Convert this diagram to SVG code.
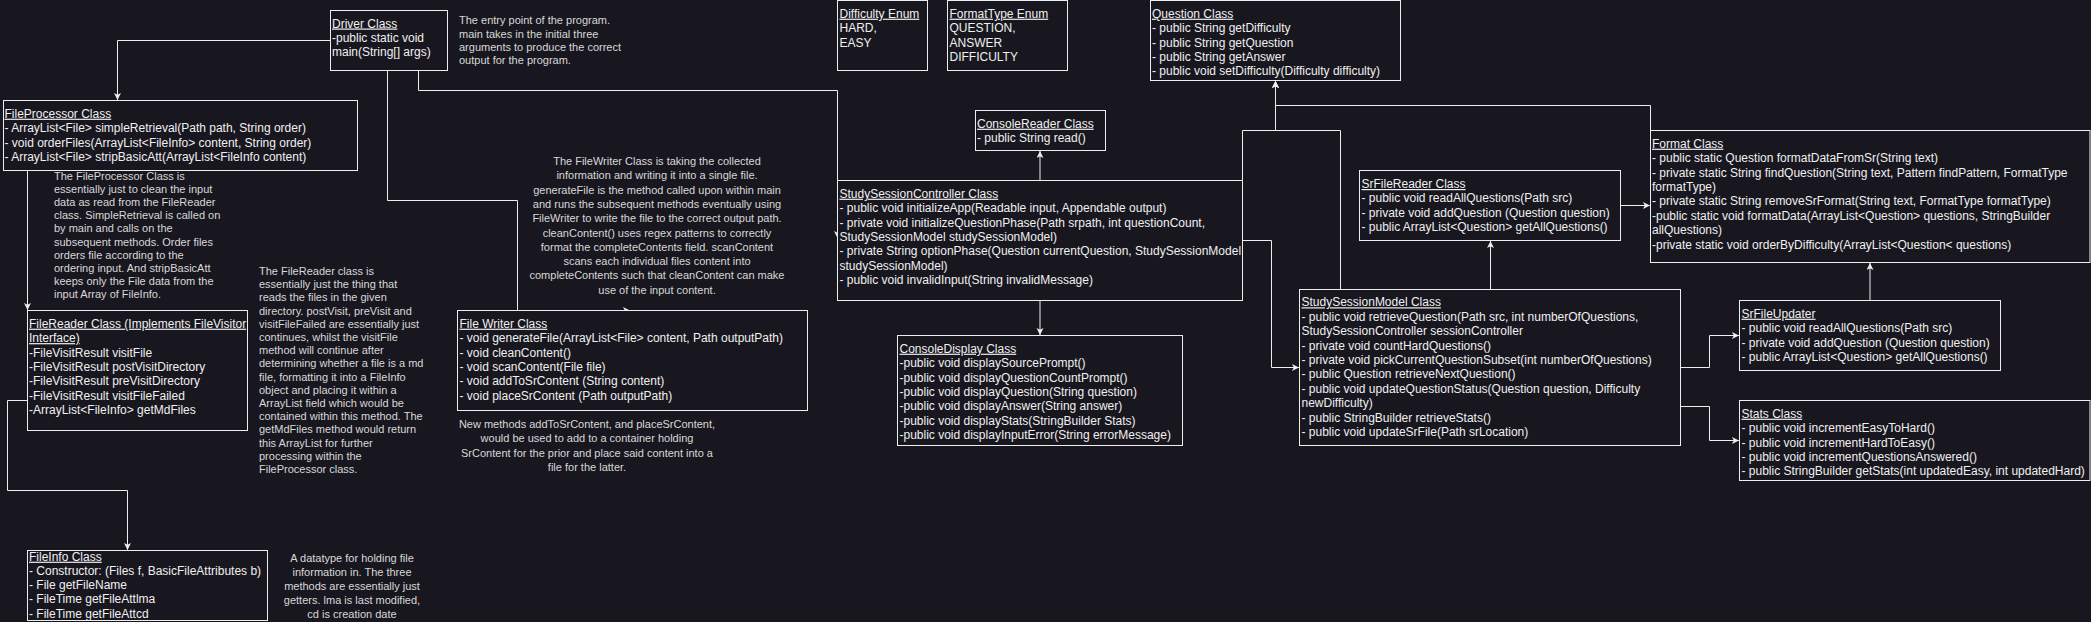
<svg xmlns="http://www.w3.org/2000/svg" width="2091" height="622" viewBox="0 0 2091 622">
<style>
.bg{fill:#18171f}
.box{fill:#18171f;stroke:#eeeeee;stroke-width:1}
.t{font-family:"Liberation Sans",Arial,sans-serif;font-size:12px;fill:#f0f0f0}
.u{text-decoration:underline}
.n{font-family:"Liberation Sans",Arial,sans-serif;font-size:11px;fill:#d8d8d8}
.c{text-anchor:middle}
.conn{fill:none;stroke:#eeeeee;stroke-width:1;marker-end:url(#arr)}
</style>
<defs>
<marker id="arr" markerUnits="userSpaceOnUse" markerWidth="8" markerHeight="8" refX="7" refY="3.5" orient="auto">
<path d="M0,0 L7,3.5 L0,7 L1.8,3.5 z" fill="#eeeeee"/>
</marker>
</defs>
<rect class="bg" x="0" y="0" width="2091" height="622"/>

<g id="connectors">
<path class="conn" d="M330,40.5 H117.5 V100"/>
<path class="conn" d="M418.5,70 V90.5 H837.5 V238"/>
<path class="conn" d="M387.5,70 V200.5 H517.5 V310.5 H630"/>
<path class="conn" d="M27.5,170 V310"/>
<path class="conn" d="M27.5,400.5 H7.5 V490.5 H127.5 V550"/>
<path class="conn" d="M1040,180 V151"/>
<path class="conn" d="M1040,300.5 V335"/>
<path class="conn" d="M1242.5,180 V130.5 H1275.5 V81"/>
<path class="conn" d="M1340.5,289 V130.5 H1275.5 V81"/>
<path class="conn" d="M1650.5,130 V105.5 H1275.5 V81"/>
<path class="conn" d="M1242.5,240.5 H1271.5 V367.5 H1299"/>
<path class="conn" d="M1490.5,289 V241"/>
<path class="conn" d="M1620.5,205.5 H1650"/>
<path class="conn" d="M1680.5,367.5 H1709.5 V335.5 H1739"/>
<path class="conn" d="M1680.5,406.5 H1709.5 V440.5 H1739"/>
<path class="conn" d="M1870,300 V263"/>
</g>

<g id="driver">
<rect class="box" x="330.5" y="10.5" width="117" height="60"/>
<text class="t"><tspan class="u" x="332" y="27.5">Driver Class</tspan><tspan x="332" y="41.9">-public static void</tspan><tspan x="332" y="56.3">main(String[] args)</tspan></text>
</g>
<g id="driver-note">
<text class="n"><tspan x="459" y="24.3">The entry point of the program.</tspan><tspan x="459" y="37.5">main takes in the initial three</tspan><tspan x="459" y="50.7">arguments to produce the correct</tspan><tspan x="459" y="63.9">output for the program.</tspan></text>
</g>

<g id="fileprocessor">
<rect class="box" x="3.5" y="100.5" width="354" height="70"/>
<text class="t"><tspan class="u" x="4.5" y="117.7">FileProcessor Class</tspan><tspan x="4.5" y="132.1">- ArrayList&lt;File&gt; simpleRetrieval(Path path, String order)</tspan><tspan x="4.5" y="146.5">- void orderFiles(ArrayList&lt;FileInfo&gt; content, String order)</tspan><tspan x="4.5" y="160.9">- ArrayList&lt;File&gt; stripBasicAtt(ArrayList&lt;FileInfo content)</tspan></text>
</g>
<g id="fileprocessor-note">
<text class="n"><tspan x="54" y="180">The FileProcessor Class is</tspan><tspan x="54" y="193.1">essentially just to clean the input</tspan><tspan x="54" y="206.2">data as read from the FileReader</tspan><tspan x="54" y="219.3">class. SimpleRetrieval is called on</tspan><tspan x="54" y="232.4">by main and calls on the</tspan><tspan x="54" y="245.5">subsequent methods. Order files</tspan><tspan x="54" y="258.6">orders file according to the</tspan><tspan x="54" y="271.7">ordering input. And stripBasicAtt</tspan><tspan x="54" y="284.8">keeps only the File data from the</tspan><tspan x="54" y="297.9">input Array of FileInfo.</tspan></text>
</g>

<g id="filereader">
<rect class="box" x="27.5" y="310.5" width="220" height="120"/>
<text class="t"><tspan class="u" x="29" y="327.7">FileReader Class (Implements FileVisitor</tspan><tspan class="u" x="29" y="342.1">Interface)</tspan><tspan x="29" y="356.5">-FileVisitResult visitFile</tspan><tspan x="29" y="370.9">-FileVisitResult postVisitDirectory</tspan><tspan x="29" y="385.3">-FileVisitResult preVisitDirectory</tspan><tspan x="29" y="399.7">-FileVisitResult visitFileFailed</tspan><tspan x="29" y="414.1">-ArrayList&lt;FileInfo&gt; getMdFiles</tspan></text>
</g>
<g id="filereader-note">
<text class="n"><tspan x="259" y="275">The FileReader class is</tspan><tspan x="259" y="288.2">essentially just the thing that</tspan><tspan x="259" y="301.4">reads the files in the given</tspan><tspan x="259" y="314.6">directory. postVisit, preVisit and</tspan><tspan x="259" y="327.8">visitFileFailed are essentially just</tspan><tspan x="259" y="341">continues, whilst the visitFile</tspan><tspan x="259" y="354.2">method will continue after</tspan><tspan x="259" y="367.4">determining whether a file is a md</tspan><tspan x="259" y="380.6">file, formatting it into a FileInfo</tspan><tspan x="259" y="393.8">object and placing it within a</tspan><tspan x="259" y="407">ArrayList field which would be</tspan><tspan x="259" y="420.2">contained within this method. The</tspan><tspan x="259" y="433.4">getMdFiles method would return</tspan><tspan x="259" y="446.6">this ArrayList for further</tspan><tspan x="259" y="459.8">processing within the</tspan><tspan x="259" y="473">FileProcessor class.</tspan></text>
</g>

<g id="fileinfo">
<rect class="box" x="27.5" y="550.5" width="240" height="70"/>
<text class="t"><tspan class="u" x="29" y="560.7">FileInfo Class</tspan><tspan x="29" y="574.9">- Constructor: (Files f, BasicFileAttributes b)</tspan><tspan x="29" y="589.1">- File getFileName</tspan><tspan x="29" y="603.3">- FileTime getFileAttlma</tspan><tspan x="29" y="617.5">- FileTime getFileAttcd</tspan></text>
</g>
<g id="fileinfo-note">
<text class="n c"><tspan x="352" y="561.7">A datatype for holding file</tspan><tspan x="352" y="575.8">information in. The three</tspan><tspan x="352" y="589.9">methods are essentially just</tspan><tspan x="352" y="604">getters. lma is last modified,</tspan><tspan x="352" y="618.1">cd is creation date</tspan></text>
</g>

<g id="filewriter-note">
<text class="n c"><tspan x="657" y="165">The FileWriter Class is taking the collected</tspan><tspan x="657" y="179.3">information and writing it into a single file.</tspan><tspan x="657" y="193.6">generateFile is the method called upon within main</tspan><tspan x="657" y="207.9">and runs the subsequent methods eventually using</tspan><tspan x="657" y="222.2">FileWriter to write the file to the correct output path.</tspan><tspan x="657" y="236.5">cleanContent() uses regex patterns to correctly</tspan><tspan x="657" y="250.8">format the completeContents field. scanContent</tspan><tspan x="657" y="265.1">scans each individual files content into</tspan><tspan x="657" y="279.4">completeContents such that cleanContent can make</tspan><tspan x="657" y="293.7">use of the input content.</tspan></text>
</g>
<g id="filewriter">
<rect class="box" x="457.5" y="310.5" width="350" height="100"/>
<text class="t"><tspan class="u" x="459.5" y="327.7">File Writer Class</tspan><tspan x="459.5" y="342.1">- void generateFile(ArrayList&lt;File&gt; content, Path outputPath)</tspan><tspan x="459.5" y="356.5">- void cleanContent()</tspan><tspan x="459.5" y="370.9">- void scanContent(File file)</tspan><tspan x="459.5" y="385.3">- void addToSrContent (String content)</tspan><tspan x="459.5" y="399.7">- void placeSrContent (Path outputPath)</tspan></text>
</g>
<g id="filewriter-note2">
<text class="n c"><tspan x="587" y="428">New methods addToSrContent, and placeSrContent,</tspan><tspan x="587" y="442.3">would be used to add to a container holding</tspan><tspan x="587" y="456.6">SrContent for the prior and place said content into a</tspan><tspan x="587" y="470.9">file for the latter.</tspan></text>
</g>

<g id="difficulty">
<rect class="box" x="837.5" y="0.5" width="90" height="70"/>
<text class="t"><tspan class="u" x="839.5" y="17.7">Difficulty Enum</tspan><tspan x="839.5" y="32.1">HARD,</tspan><tspan x="839.5" y="46.5">EASY</tspan></text>
</g>
<g id="formattype">
<rect class="box" x="947.5" y="0.5" width="120" height="70"/>
<text class="t"><tspan class="u" x="949.5" y="17.7">FormatType Enum</tspan><tspan x="949.5" y="32.1">QUESTION,</tspan><tspan x="949.5" y="46.5">ANSWER</tspan><tspan x="949.5" y="60.9">DIFFICULTY</tspan></text>
</g>
<g id="question">
<rect class="box" x="1150.5" y="0.5" width="250" height="80"/>
<text class="t"><tspan class="u" x="1152" y="17.7">Question Class</tspan><tspan x="1152" y="32.1">- public String getDifficulty</tspan><tspan x="1152" y="46.5">- public String getQuestion</tspan><tspan x="1152" y="60.9">- public String getAnswer</tspan><tspan x="1152" y="75.3">- public void setDifficulty(Difficulty difficulty)</tspan></text>
</g>
<g id="consolereader">
<rect class="box" x="975.5" y="110.5" width="130" height="40"/>
<text class="t"><tspan class="u" x="977" y="127.7">ConsoleReader Class</tspan><tspan x="977" y="142.1">- public String read()</tspan></text>
</g>
<g id="controller">
<rect class="box" x="837.5" y="180.5" width="405" height="120"/>
<text class="t"><tspan class="u" x="839.5" y="197.7">StudySessionController Class</tspan><tspan x="839.5" y="212.1">- public void initializeApp(Readable input, Appendable output)</tspan><tspan x="839.5" y="226.5">- private void initializeQuestionPhase(Path srpath, int questionCount,</tspan><tspan x="839.5" y="240.9">StudySessionModel studySessionModel)</tspan><tspan x="839.5" y="255.3">- private String optionPhase(Question currentQuestion, StudySessionModel</tspan><tspan x="839.5" y="269.7">studySessionModel)</tspan><tspan x="839.5" y="284.1">- public void invalidInput(String invalidMessage)</tspan></text>
</g>
<g id="consoledisplay">
<rect class="box" x="897.5" y="335.5" width="285" height="110"/>
<text class="t"><tspan class="u" x="899.5" y="352.7">ConsoleDisplay Class</tspan><tspan x="899.5" y="367.1">-public void displaySourcePrompt()</tspan><tspan x="899.5" y="381.5">-public void displayQuestionCountPrompt()</tspan><tspan x="899.5" y="395.9">-public void displayQuestion(String question)</tspan><tspan x="899.5" y="410.3">-public void displayAnswer(String answer)</tspan><tspan x="899.5" y="424.7">-public void displayStats(StringBuilder Stats)</tspan><tspan x="899.5" y="439.1">-public void displayInputError(String errorMessage)</tspan></text>
</g>
<g id="srfilereader">
<rect class="box" x="1359.5" y="170.5" width="261" height="70"/>
<text class="t"><tspan class="u" x="1361.5" y="188">SrFileReader Class</tspan><tspan x="1361.5" y="202.4">- public void readAllQuestions(Path src)</tspan><tspan x="1361.5" y="216.8">- private void addQuestion (Question question)</tspan><tspan x="1361.5" y="231.2">- public ArrayList&lt;Question&gt; getAllQuestions()</tspan></text>
</g>
<g id="model">
<rect class="box" x="1299.5" y="289.5" width="381" height="156"/>
<text class="t"><tspan class="u" x="1301.5" y="306.3">StudySessionModel Class</tspan><tspan x="1301.5" y="320.7">- public void retrieveQuestion(Path src, int numberOfQuestions,</tspan><tspan x="1301.5" y="335.1">StudySessionController sessionController</tspan><tspan x="1301.5" y="349.5">- private void countHardQuestions()</tspan><tspan x="1301.5" y="363.9">- private void pickCurrentQuestionSubset(int numberOfQuestions)</tspan><tspan x="1301.5" y="378.3">- public Question retrieveNextQuestion()</tspan><tspan x="1301.5" y="392.7">- public void updateQuestionStatus(Question question, Difficulty</tspan><tspan x="1301.5" y="407.1">newDifficulty)</tspan><tspan x="1301.5" y="421.5">- public StringBuilder retrieveStats()</tspan><tspan x="1301.5" y="435.9">- public void updateSrFile(Path srLocation)</tspan></text>
</g>
<g id="format">
<rect class="box" x="1650.5" y="130.5" width="439.5" height="132"/>
<text class="t"><tspan class="u" x="1652" y="147.7">Format Class</tspan><tspan x="1652" y="162.1">- public static Question formatDataFromSr(String text)</tspan><tspan x="1652" y="176.5">- private static String findQuestion(String text, Pattern findPattern, FormatType</tspan><tspan x="1652" y="190.9">formatType)</tspan><tspan x="1652" y="205.3">- private static String removeSrFormat(String text, FormatType formatType)</tspan><tspan x="1652" y="219.7">-public static void formatData(ArrayList&lt;Question&gt; questions, StringBuilder</tspan><tspan x="1652" y="234.1">allQuestions)</tspan><tspan x="1652" y="248.5">-private static void orderByDifficulty(ArrayList&lt;Question&lt; questions)</tspan></text>
</g>
<g id="srfileupdater">
<rect class="box" x="1739.5" y="300.5" width="261" height="70"/>
<text class="t"><tspan class="u" x="1741.5" y="317.7">SrFileUpdater</tspan><tspan x="1741.5" y="332.1">- public void readAllQuestions(Path src)</tspan><tspan x="1741.5" y="346.5">- private void addQuestion (Question question)</tspan><tspan x="1741.5" y="360.9">- public ArrayList&lt;Question&gt; getAllQuestions()</tspan></text>
</g>
<g id="stats">
<rect class="box" x="1739.5" y="400.5" width="350.5" height="80"/>
<text class="t"><tspan class="u" x="1741.5" y="417.7">Stats Class</tspan><tspan x="1741.5" y="432.1">- public void incrementEasyToHard()</tspan><tspan x="1741.5" y="446.5">- public void incrementHardToEasy()</tspan><tspan x="1741.5" y="460.9">- public void incrementQuestionsAnswered()</tspan><tspan x="1741.5" y="475.3">- public StringBuilder getStats(int updatedEasy, int updatedHard)</tspan></text>
</g>
</svg>
